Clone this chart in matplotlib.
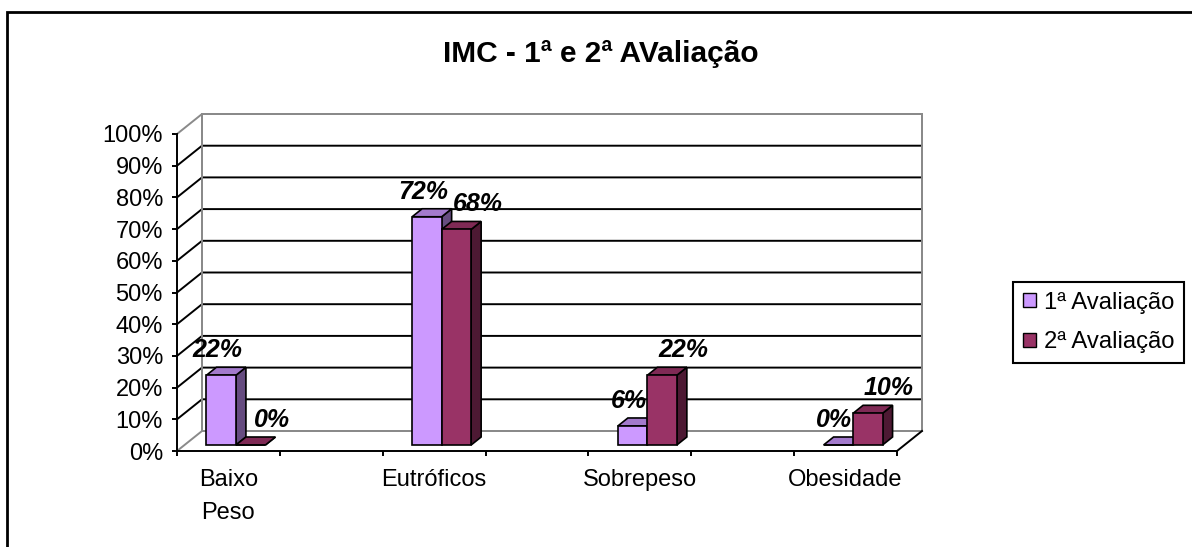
import matplotlib
matplotlib.use('Agg')
import matplotlib.pyplot as plt
from matplotlib.patches import Polygon, Rectangle, Patch
from matplotlib.lines import Line2D
from matplotlib.transforms import IdentityTransform

# ---- data ----
categories = ["Baixo\nPeso", "Eutróficos", "Sobrepeso", "Obesidade"]
series_names = ["1ª Avaliação", "2ª Avaliação"]
aval1 = [22, 72, 6, 0]
aval2 = [0, 68, 22, 10]
ytick_vals = [0, 10, 20, 30, 40, 50, 60, 70, 80, 90, 100]
ytick_labels = [f"{v}%" for v in ytick_vals]
title = "IMC - 1ª e 2ª AValiação"

# ---- style ----
FONT = "Liberation Sans"
plt.rcParams['font.family'] = [FONT, 'DejaVu Sans']
front_cols = ["#CC99FF", "#993366"]
top_cols = ["#A37ACC", "#7F2A55"]
side_cols = ["#664C80", "#4D1933"]
GRAY = "#8A8A8A"
LW = 1.4

W, H = 1192, 547
fig = plt.figure(figsize=(W / 100, H / 100), dpi=100)
ax = fig.add_axes([177 / W, (H - 451) / H, 720 / W, 317 / H])
ax.set_xlim(-0.25, 3.25)
ax.set_ylim(0, 100)
ax.patch.set_visible(False)

DX, DY = 25.0, 20.0          # depth vector in pixels
FD, BD = 0.3, 0.7            # bar front/back depth fractions
BW = 0.1434                  # bar width in category units

def disp(x, y, d=0.0):
    p = ax.transData.transform((x, y))
    return (p[0] + d * DX, p[1] + d * DY)

ID = IdentityTransform()
x_lo, x_hi = ax.get_xlim()

# back wall
wall = Polygon([disp(x_lo, 0, 1), disp(x_hi, 0, 1), disp(x_hi, 100, 1), disp(x_lo, 100, 1)],
               closed=True, fc="white", ec=GRAY, lw=LW, transform=ID, zorder=1, clip_on=False)
ax.add_patch(wall)

for v in ytick_vals:
    col = GRAY if v in (0, 100) else "black"
    p0, p1, p2 = disp(x_lo, v, 0), disp(x_lo, v, 1), disp(x_hi, v, 1)
    ax.add_line(Line2D([p0[0], p1[0], p2[0]], [p0[1], p1[1], p2[1]], color=col, lw=LW,
                       transform=ID, zorder=2, clip_on=False))
for xv in (x_lo, x_hi):
    a, b = disp(xv, 0, 1), disp(xv, 100, 1)
    ax.add_line(Line2D([a[0], b[0]], [a[1], b[1]], color=GRAY, lw=LW, transform=ID, zorder=2.5, clip_on=False))
a, b = disp(x_hi, 0, 0), disp(x_hi, 0, 1)
ax.add_line(Line2D([a[0], b[0]], [a[1], b[1]], color="black", lw=LW, transform=ID, zorder=3, clip_on=False))

# bars
z = 5
for i in range(len(categories)):
    for s, vals in enumerate([aval1, aval2]):
        v = vals[i]
        x0 = i - BW + s * BW
        x1 = x0 + BW
        front = [disp(x0, 0, FD), disp(x1, 0, FD), disp(x1, v, FD), disp(x0, v, FD)]
        top = [disp(x0, v, FD), disp(x1, v, FD), disp(x1, v, BD), disp(x0, v, BD)]
        side = [disp(x1, 0, FD), disp(x1, 0, BD), disp(x1, v, BD), disp(x1, v, FD)]
        for pts, col in ((side, side_cols[s]), (top, top_cols[s]), (front, front_cols[s])):
            ax.add_patch(Polygon(pts, closed=True, fc=col, ec="black", lw=1.2, transform=ID,
                                 zorder=z, clip_on=False))
        z += 1
        cx, cy = disp((x0 + x1) / 2, v, FD)
        off = -4 if s == 0 else 21
        ax.text(cx + off, cy + 18, f"{v}%", transform=ID, ha="center", va="baseline",
                fontsize=18, fontweight="bold", fontstyle="italic", color="black", zorder=50)

# axes / spines
for sp in ("top", "right"):
    ax.spines[sp].set_visible(False)
for sp in ("left", "bottom"):
    ax.spines[sp].set_linewidth(LW)
    ax.spines[sp].set_color("black")
    ax.spines[sp].set_zorder(4)

ax.set_yticks(ytick_vals)
ax.set_yticklabels(ytick_labels)
ax.tick_params(axis="y", length=3.6, width=LW, pad=6.5, labelsize=17, colors="black")

major_x = [x_lo + 0.5 * k for k in range(8)]
ax.set_xticks(major_x)
ax.set_xticklabels([""] * len(major_x))
ax.set_xticks(range(len(categories)), minor=True)
ax.set_xticklabels(categories, minor=True, fontsize=17, linespacing=1.65)
ax.tick_params(axis="x", which="major", length=3.6, width=LW, colors="black")
ax.tick_params(axis="x", which="minor", length=0, pad=13)

# title
fig.text(600.5 / W, (H - 62) / H, title, ha="center", va="baseline", fontsize=21.5,
         fontweight="bold")

# legend
handles = [Patch(fc=front_cols[k], ec="black", lw=1.0) for k in range(2)]
leg = fig.legend(handles, series_names, loc="upper left",
                 bbox_to_anchor=(1013 / W, (H - 282) / H), fontsize=17.2, frameon=True,
                 fancybox=False, framealpha=1, edgecolor="black", borderpad=0.4,
                 labelspacing=0.75, handlelength=0.55, handleheight=0.55, handletextpad=0.35,
                 borderaxespad=0)
leg.get_frame().set_linewidth(1.5)

# outer chart border (extends past right and bottom edges)
fig.patches.append(Rectangle((7 / W, -0.2), 1.2, (H - 12) / H + 0.2, transform=fig.transFigure,
                             fill=False, ec="black", lw=2, clip_on=False))

fig.savefig("out.png", dpi=100)
